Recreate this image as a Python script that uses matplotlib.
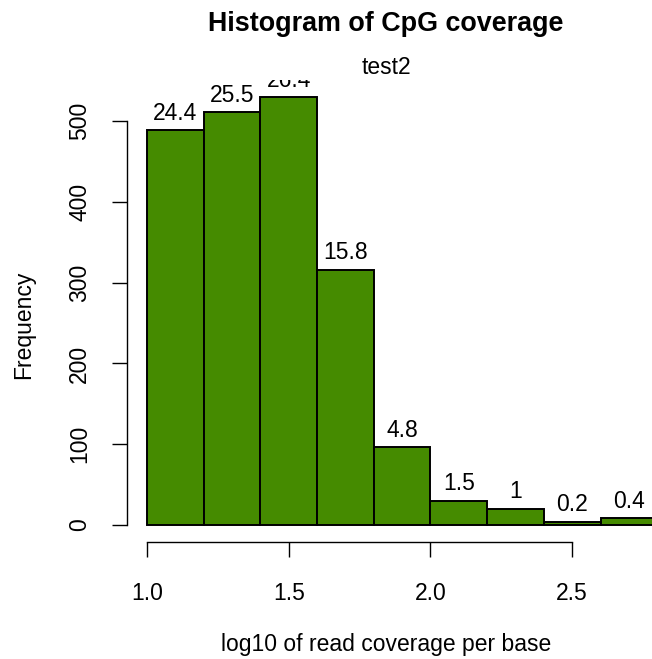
import numpy as np
import matplotlib
matplotlib.use("Agg")
import matplotlib.pyplot as plt

plt.rcParams['font.family'] = ['Liberation Sans', 'DejaVu Sans']

# Datos del histograma
bordes = [1.0, 1.2, 1.4, 1.6, 1.8, 2.0, 2.2, 2.4, 2.6, 2.8]
frecuencias = [489, 511, 530, 316, 96, 30, 20, 4, 8]
porcentajes = ["24.4", "25.5", "26.4", "15.8", "4.8", "1.5", "1", "0.2", "0.4"]
ticks_x = [1.0, 1.5, 2.0, 2.5]
ticks_y = [0, 100, 200, 300, 400, 500]

W, H = 652, 659
fig = plt.figure(figsize=(W / 100, H / 100), dpi=100)

# region del grafico (en pixeles, desde arriba)
izq, der, arriba, abajo = 126.6, 677.7, 80, 542
ax = fig.add_axes([izq / W, 1 - abajo / H, (der - izq) / W, (abajo - arriba) / H])

anchos = np.diff(bordes)
ax.bar(bordes[:-1], frecuencias, width=anchos, align='edge',
       color='#458B00', edgecolor='black', linewidth=1.4)

for x0, w, f, p in zip(bordes[:-1], anchos, frecuencias, porcentajes):
    ax.annotate(p, (x0 + w / 2, f), xytext=(0, 4), textcoords='offset points',
                ha='center', va='bottom', fontsize=16.5, annotation_clip=False,
                clip_on=True)

rango_x = bordes[-1] - bordes[0]
ax.set_xlim(bordes[0] - 0.04 * rango_x, bordes[-1] + 0.04 * rango_x)
ymax = max(frecuencias)
ax.set_ylim(-0.04 * ymax, ymax * 1.04)

for s in ['top', 'right']:
    ax.spines[s].set_visible(False)
ax.spines['bottom'].set_bounds(ticks_x[0], ticks_x[-1])
ax.spines['left'].set_bounds(ticks_y[0], ticks_y[-1])
for s in ['bottom', 'left']:
    ax.spines[s].set_linewidth(1.0)

ax.set_xticks(ticks_x)
ax.set_xticklabels([f"{t:.1f}" for t in ticks_x])
ax.set_yticks(ticks_y)
ax.set_yticklabels([str(t) for t in ticks_y], rotation=90, va='center')
ax.tick_params(axis='both', length=10.5, width=1.0, labelsize=16.5)
ax.tick_params(axis='x', pad=18)
ax.tick_params(axis='y', pad=15)

fig.text(386 / W, 1 - 24 / H, "Histogram of CpG coverage", ha='center', va='center',
         fontsize=19.4, fontweight='bold')
fig.text(386 / W, 1 - 67 / H, "test2", ha='center', va='center', fontsize=16.5)
fig.text(386 / W, 1 - 645 / H, "log10 of read coverage per base", ha='center',
         va='center', fontsize=16.5)
fig.text(24 / W, 1 - 325 / H, "Frequency", ha='center', va='center',
         rotation=90, fontsize=16.5)

fig.savefig("out.png", dpi=100)
